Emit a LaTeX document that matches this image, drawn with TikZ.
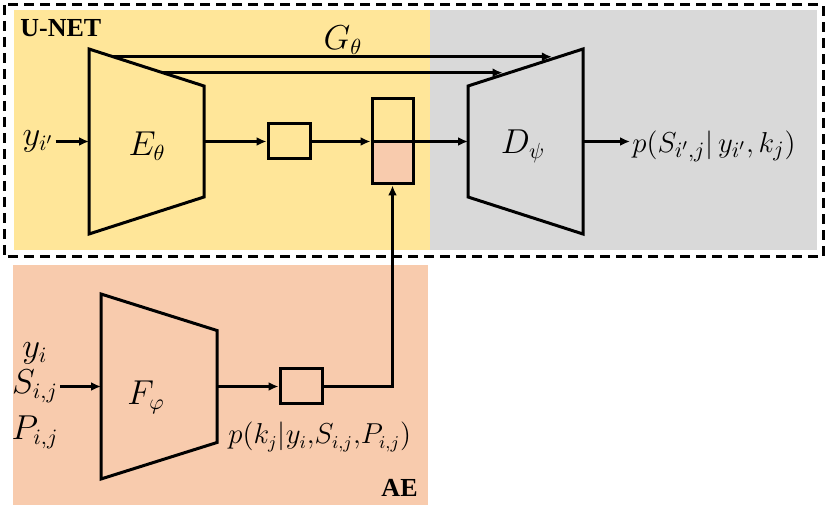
\documentclass[tikz,border=0pt]{standalone}
\usepackage{fontspec}
\setmainfont{Liberation Serif}
\usetikzlibrary{arrows.meta,calc}
\definecolor{unetcol}{HTML}{FFE699}
\definecolor{deccol}{HTML}{D9D9D9}
\definecolor{aecol}{HTML}{F8CBAD}
\tikzset{
  arr/.style={-{Latex[length=5pt,width=4.5pt]}, line width=1.5pt},
  trap/.style={line width=1.5pt, line join=miter},
  box/.style={draw, line width=1.5pt, minimum width=21pt, minimum height=17.5pt, inner sep=0pt},
  lbl/.style={inner sep=1pt},
  tag/.style={inner sep=0pt, font=\fontsize{13}{15}\selectfont\bfseries},
}
\newcommand{\drawtrap}[6]{
  \draw[trap] (#2, #4 - #5) coordinate (#1-tl) -- (#3, #4 - #6) coordinate (#1-tr)
    -- (#3, #4 + #6) -- (#2, #4 + #5) -- cycle;
  \coordinate (#1-in) at (#2, #4);
  \coordinate (#1-out) at (#3, #4);
}

\begin{document}
\begin{tikzpicture}[x=0.5pt, y=-0.5pt, font=\fontsize{16}{18}\selectfont]
  \useasboundingbox (0,0) rectangle (831,513);
  % regions
  \fill[unetcol] (14,10) rectangle (430,250);
  \fill[deccol] (430,10) rectangle (817,250);
  \fill[aecol] (13,265) rectangle (428,505);
  \draw[line width=1.5pt, dash pattern=on 5pt off 3pt] (4,5) rectangle (823,257);
  \node[tag, anchor=west] (unet) at (20,28) {U-NET};
  \node[tag, anchor=east] (ae) at (418,488) {AE};

  % encoder / decoder / AE network
  \drawtrap{E}{89}{204}{141.5}{92.5}{55.5}
  \drawtrap{D}{468}{583}{141.5}{55.5}{92.5}
  \drawtrap{F}{101}{217}{386.5}{92.5}{56}
  \node (Elab) at (147,146) {$E_\theta$};
  \node (Dlab) at (523,146) {$D_\psi$};
  \node (Flab) at (146,397) {$F_\varphi$};
  \node (G) at (343,40) {$G_\theta$};

  % skip connections
  \coordinate (E-s1) at ($(E-tl)!0.21!(E-tr)$);
  \coordinate (E-s2) at ($(E-tl)!0.64!(E-tr)$);
  \coordinate (D-s1) at ($(D-tl)!0.73!(D-tr)$);
  \coordinate (D-s2) at ($(D-tl)!0.30!(D-tr)$);
  \draw[arr] (E-s1) -- (E-s1 -| D-s1);
  \draw[arr] (E-s2) -- (E-s2 -| D-s2);

  % latent boxes
  \node[box] (enc) at (289,141.5) {};
  \node[box, minimum width=20.5pt, minimum height=42.5pt,
    path picture={\fill[aecol] (path picture bounding box.west)
      rectangle (path picture bounding box.south east);}] (cat) at (392.5,141.5) {};
  \node[box] (lat) at (301,386.5) {};

  % texts
  \node[lbl] (yin) at (38,141.5) {$y_{i'}$};
  \node[lbl, anchor=west, font=\fontsize{15.5}{18}\selectfont] (pout) at (630,146)
    {$p(S_{i',j}|\,y_{i'},k_j)$};
  \node[lbl] (yi) at (35,353) {$y_i$};
  \node[lbl] (Sij) at (35,386.5) {$S_{i,j}$};
  \node[lbl] (Pij) at (35,432) {$P_{i,j}$};
  \node[lbl, anchor=west, font=\fontsize{13.5}{16}\selectfont] (pk) at (226,437)
    {$p(k_j|y_i{,}S_{i,j}{,}P_{i,j})$};

  % connectors
  \draw[arr] (yin) -- (E-in);
  \draw[arr] (E-out) -- (enc);
  \draw[arr] (enc) -- (cat.west);
  \draw[line width=1.5pt] (cat.west) -- (cat.east);
  \draw[arr] (cat.east) -- (D-in);
  \draw[arr] (D-out) -- (D-out -| pout.west);
  \draw[arr] (Sij) -- (F-in);
  \draw[arr] (F-out) -- (lat);
  \draw[arr] (lat.east) -| (cat.south);
\end{tikzpicture}
\end{document}
